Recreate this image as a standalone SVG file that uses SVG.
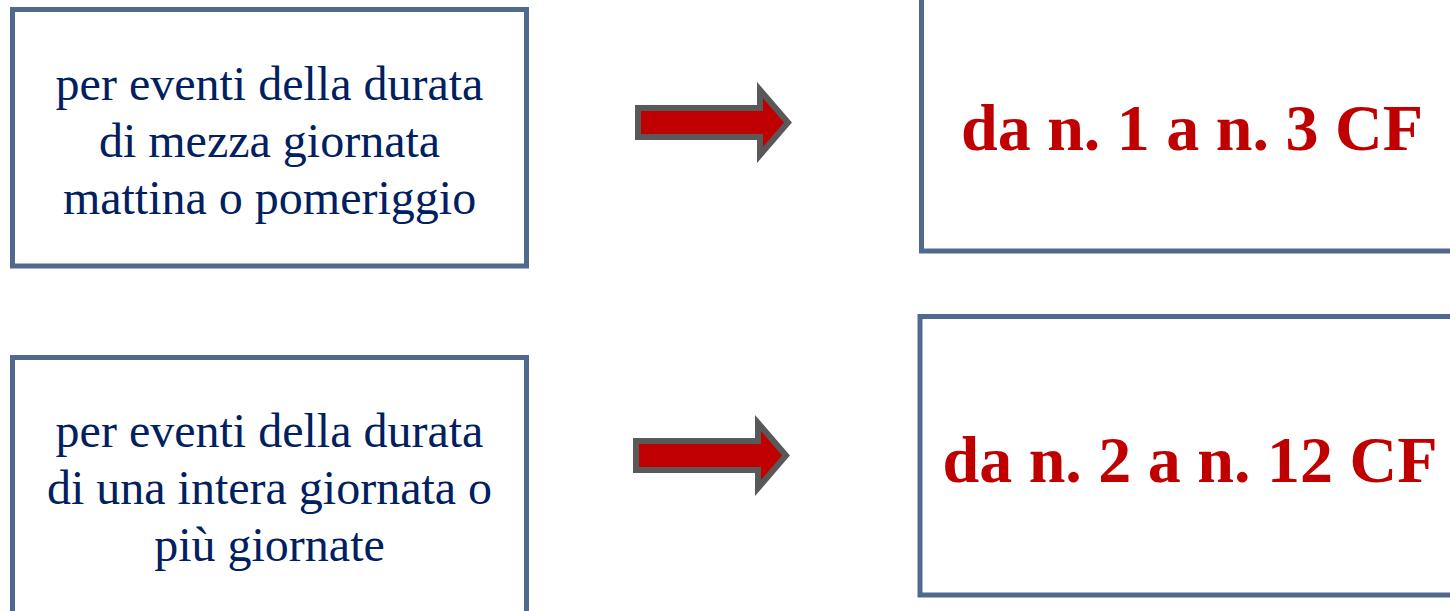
<svg xmlns="http://www.w3.org/2000/svg" width="1450" height="611" viewBox="0 0 1450 611">
<style>
.box{fill:#FFFFFF;stroke:#50698F;stroke-width:5}
.lt{font-family:"Liberation Serif","Times New Roman",serif;font-size:48px;fill:#002060;text-anchor:middle}
.rt{font-family:"Liberation Serif","Times New Roman",serif;font-size:66px;font-weight:bold;fill:#C00000;text-anchor:middle}
.arr{fill:#C00000;stroke:#595959;stroke-width:6;stroke-linejoin:miter;stroke-miterlimit:10}
</style>
<rect width="1450" height="611" fill="#FFFFFF"/>
<g id="node-left-1">
<rect class="box" x="12.5" y="9.5" width="514" height="256.5"/>
<text class="lt" x="269.5" y="100">per eventi della durata</text>
<text class="lt" x="269.5" y="157">di mezza giornata</text>
<text class="lt" x="269.5" y="214">mattina o pomeriggio</text>
</g>
<g id="node-left-2">
<rect class="box" x="12.5" y="357.5" width="514" height="256.5"/>
<text class="lt" x="269.5" y="447">per eventi della durata</text>
<text class="lt" x="269.5" y="504">di una intera giornata o</text>
<text class="lt" x="269.5" y="561">più giornate</text>
</g>
<g id="node-right-1">
<rect class="box" x="921.5" y="-27.5" width="545" height="278.5"/>
<text class="rt" x="1192" y="150">da n. 1 a n. 3 CF</text>
</g>
<g id="node-right-2">
<rect class="box" x="920" y="316.5" width="545" height="278.5"/>
<text class="rt" x="1190" y="482">da n. 2 a n. 12 CF</text>
</g>
<g id="connectors">
<path class="arr" d="M638,108 L760,108 L760,90 L788,122.5 L760,155 L760,137 L638,137 Z"/>
<path class="arr" d="M636,441 L758,441 L758,423 L786,455.5 L758,488 L758,470 L636,470 Z"/>
</g>
</svg>
